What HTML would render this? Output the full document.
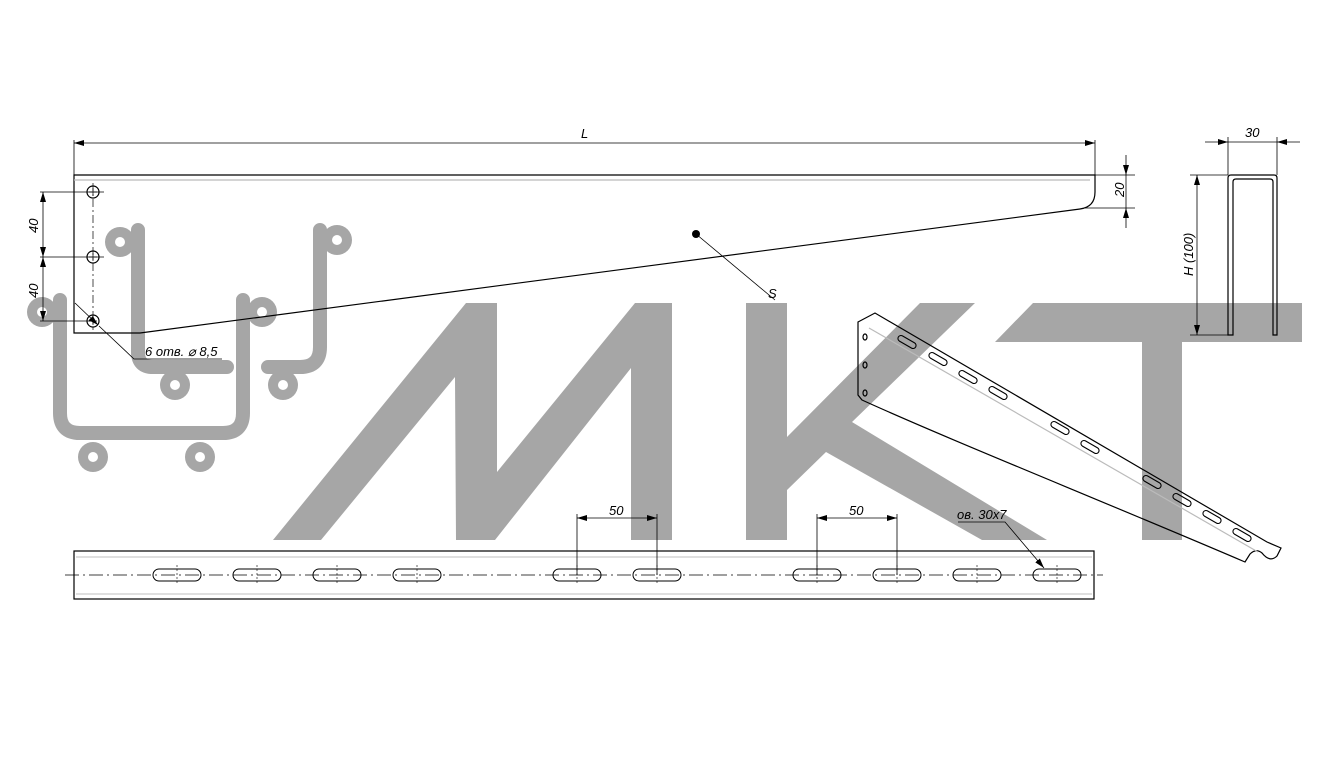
<!DOCTYPE html>
<html><head><meta charset="utf-8"><style>
html,body{margin:0;padding:0;background:#fff;}
svg{display:block;}
text{font-family:"Liberation Sans",sans-serif;font-style:italic;fill:#000;}
</style></head><body>
<svg width="1328" height="764" viewBox="0 0 1328 764" xmlns="http://www.w3.org/2000/svg">
<defs>
<marker id="a" viewBox="0 0 10 6" refX="10" refY="3" markerWidth="10" markerHeight="6" orient="auto-start-reverse" markerUnits="userSpaceOnUse"><path d="M0,0 L10,3 L0,6 z" fill="#000"/></marker>
</defs>
<g fill="#a6a6a6">
<polygon points="273,540 466,303 497,303 497,472 635,303 672,303 672,540 631,540 631,368 495,540 456,540 455,377 321,540"/>
<polygon points="746,303 787,303 787,437 920,303 975,303 852,422 1047,540 982,540 826,452 787,490 787,540 746,540"/>
<polygon points="995,342 1033,303 1302,303 1302,342 1182,342 1182,540 1142,540 1142,342"/>
</g>
<g fill="none" stroke="#a6a6a6" stroke-width="14" stroke-linecap="round">
<path d="M138,230 V352 Q138,367 153,367 H227"/>
<path d="M320,230 V347 Q320,367 300,367 H268"/>
<path d="M60,300 V413 Q60,433 80,433 H223 Q243,433 243,413 V300"/>
</g>
<g fill="#a6a6a6">
<circle cx="120" cy="242" r="15"/><circle cx="337" cy="240" r="15"/>
<circle cx="175" cy="385" r="15"/><circle cx="283" cy="385" r="15"/>
<circle cx="42" cy="312" r="15"/><circle cx="262" cy="312" r="15"/>
<circle cx="93" cy="457" r="15"/><circle cx="200" cy="457" r="15"/>
</g>
<g fill="#fff">
<circle cx="120" cy="242" r="5"/><circle cx="337" cy="240" r="5"/>
<circle cx="175" cy="385" r="5"/><circle cx="283" cy="385" r="5"/>
<circle cx="42" cy="312" r="5"/><circle cx="262" cy="312" r="5"/>
<circle cx="93" cy="457" r="5"/><circle cx="200" cy="457" r="5"/>
</g>

<g fill="none" stroke="#000" stroke-width="1.2">
<path d="M74,175 H1095 V192 Q1095,207 1080,209 L140,333 H74 Z"/>
<line x1="74" y1="180" x2="1090" y2="180" stroke="#bbb"/>
<line x1="74" y1="140" x2="74" y2="175" stroke-width="0.8"/>
<line x1="1095" y1="140" x2="1095" y2="175" stroke-width="0.8"/>
<line x1="74" y1="143" x2="1095" y2="143" stroke-width="0.8" marker-start="url(#a)" marker-end="url(#a)"/>
<line x1="1095" y1="175" x2="1135" y2="175" stroke-width="0.8"/>
<line x1="1085" y1="208" x2="1135" y2="208" stroke-width="0.8"/>
<line x1="1126" y1="155" x2="1126" y2="175" stroke-width="0.8" marker-end="url(#a)"/>
<line x1="1126" y1="228" x2="1126" y2="208" stroke-width="0.8" marker-end="url(#a)"/>
<line x1="1126" y1="175" x2="1126" y2="208" stroke-width="0.8"/>
<circle cx="93" cy="192" r="6"/><circle cx="93" cy="257" r="6"/><circle cx="93" cy="321" r="6"/>
<line x1="93" y1="183" x2="93" y2="330" stroke-width="0.7" stroke-dasharray="8,3,2,3"/>
<path d="M89,192 h8 M93,188 v8 M89,257 h8 M93,253 v8 M89,321 h8 M93,317 v8" stroke-width="0.7"/>
<line x1="40" y1="192" x2="104" y2="192" stroke-width="0.8"/>
<line x1="40" y1="257" x2="104" y2="257" stroke-width="0.8"/>
<line x1="40" y1="321" x2="93" y2="321" stroke-width="0.8"/>
<line x1="43" y1="192" x2="43" y2="257" stroke-width="0.8" marker-start="url(#a)" marker-end="url(#a)"/>
<line x1="43" y1="257" x2="43" y2="321" stroke-width="0.8" marker-start="url(#a)" marker-end="url(#a)"/>
<path d="M75,303 L98,325" stroke-width="0.8" marker-end="url(#a)"/>
<path d="M99,326 L134,359 H222" stroke-width="0.8"/>
<line x1="696" y1="234" x2="775" y2="300" stroke-width="0.8"/>
<path d="M1228,335 V178 Q1228,175 1231,175 H1274 Q1277,175 1277,178 V335 H1273 V182 Q1273,179 1270,179 H1236 Q1233,179 1233,182 V335 Z"/>
<line x1="1228" y1="137" x2="1228" y2="175" stroke-width="0.8"/>
<line x1="1277" y1="137" x2="1277" y2="175" stroke-width="0.8"/>
<line x1="1205" y1="142" x2="1228" y2="142" stroke-width="0.8" marker-end="url(#a)"/>
<line x1="1300" y1="142" x2="1277" y2="142" stroke-width="0.8" marker-end="url(#a)"/>
<line x1="1228" y1="142" x2="1277" y2="142" stroke-width="0.8"/>
<line x1="1190" y1="175" x2="1228" y2="175" stroke-width="0.8"/>
<line x1="1190" y1="335" x2="1230" y2="335" stroke-width="0.8"/>
<line x1="1197" y1="175" x2="1197" y2="335" stroke-width="0.8" marker-start="url(#a)" marker-end="url(#a)"/>
<rect x="74" y="551" width="1020" height="48"/>
<line x1="76" y1="557" x2="1092" y2="557" stroke="#ccc"/>
<line x1="76" y1="594" x2="1092" y2="594" stroke="#ccc"/>
<line x1="65" y1="575" x2="1103" y2="575" stroke-width="0.7" stroke-dasharray="14,4,2,4"/>
<g stroke-width="1">
<rect x="153" y="569" width="48" height="12" rx="6"/><rect x="233" y="569" width="48" height="12" rx="6"/>
<rect x="313" y="569" width="48" height="12" rx="6"/><rect x="393" y="569" width="48" height="12" rx="6"/>
<rect x="553" y="569" width="48" height="12" rx="6"/><rect x="633" y="569" width="48" height="12" rx="6"/>
<rect x="793" y="569" width="48" height="12" rx="6"/><rect x="873" y="569" width="48" height="12" rx="6"/>
<rect x="953" y="569" width="48" height="12" rx="6"/><rect x="1033" y="569" width="48" height="12" rx="6"/>
</g>
<path d="M177,565v20 M257,565v20 M337,565v20 M417,565v20 M577,565v20 M657,565v20 M817,565v20 M897,565v20 M977,565v20 M1057,565v20" stroke-width="0.6" stroke-dasharray="2,2"/>
<line x1="577" y1="514" x2="577" y2="575" stroke-width="0.8"/>
<line x1="657" y1="514" x2="657" y2="575" stroke-width="0.8"/>
<line x1="577" y1="518" x2="657" y2="518" stroke-width="0.8" marker-start="url(#a)" marker-end="url(#a)"/>
<line x1="817" y1="514" x2="817" y2="575" stroke-width="0.8"/>
<line x1="897" y1="514" x2="897" y2="575" stroke-width="0.8"/>
<line x1="817" y1="518" x2="897" y2="518" stroke-width="0.8" marker-start="url(#a)" marker-end="url(#a)"/>
<path d="M958,522 H1005 L1044,568" stroke-width="0.8" marker-end="url(#a)"/>
<path d="M858,322 L875,313 L1267,542 L1281,548 L1277,556 Q1270,563 1262,553 Q1256,548 1250,554 L1245,562 C1100,500 950,440 862,400 L858,395 Z"/>
<line x1="869" y1="328" x2="1258" y2="552" stroke="#bbb"/>
<g stroke-width="1.1">
<g transform="translate(907,342) rotate(30)"><rect x="-10" y="-3" width="20" height="6" rx="3"/></g>
<g transform="translate(938,359) rotate(30)"><rect x="-10" y="-3" width="20" height="6" rx="3"/></g>
<g transform="translate(968,377) rotate(30)"><rect x="-10" y="-3" width="20" height="6" rx="3"/></g>
<g transform="translate(998,393) rotate(30)"><rect x="-10" y="-3" width="20" height="6" rx="3"/></g>
<g transform="translate(1060,428) rotate(30)"><rect x="-10" y="-3" width="20" height="6" rx="3"/></g>
<g transform="translate(1090,447) rotate(30)"><rect x="-10" y="-3" width="20" height="6" rx="3"/></g>
<g transform="translate(1152,482) rotate(30)"><rect x="-10" y="-3" width="20" height="6" rx="3"/></g>
<g transform="translate(1182,500) rotate(30)"><rect x="-10" y="-3" width="20" height="6" rx="3"/></g>
<g transform="translate(1212,517) rotate(30)"><rect x="-10" y="-3" width="20" height="6" rx="3"/></g>
<g transform="translate(1242,535) rotate(30)"><rect x="-10" y="-3" width="20" height="6" rx="3"/></g>
</g>
<ellipse cx="865" cy="337" rx="2" ry="3"/><ellipse cx="865" cy="365" rx="2" ry="3"/><ellipse cx="865" cy="393" rx="2" ry="3"/>
</g>
<circle cx="696" cy="234" r="4" fill="#000"/>

<g font-size="13">
<text x="581" y="138">L</text>
<text x="768" y="298">S</text>
<text x="1245" y="137">30</text>
<text x="609" y="515">50</text>
<text x="849" y="515">50</text>
<text x="957" y="519">ов. 30х7</text>
<text x="145" y="356">6 отв. ⌀ 8,5</text>
<text transform="translate(1124,197) rotate(-90)">20</text>
<text transform="translate(38,233) rotate(-90)">40</text>
<text transform="translate(38,298) rotate(-90)">40</text>
<text transform="translate(1193,276) rotate(-90)">H (100)</text>
</g>
</svg>
</body></html>
